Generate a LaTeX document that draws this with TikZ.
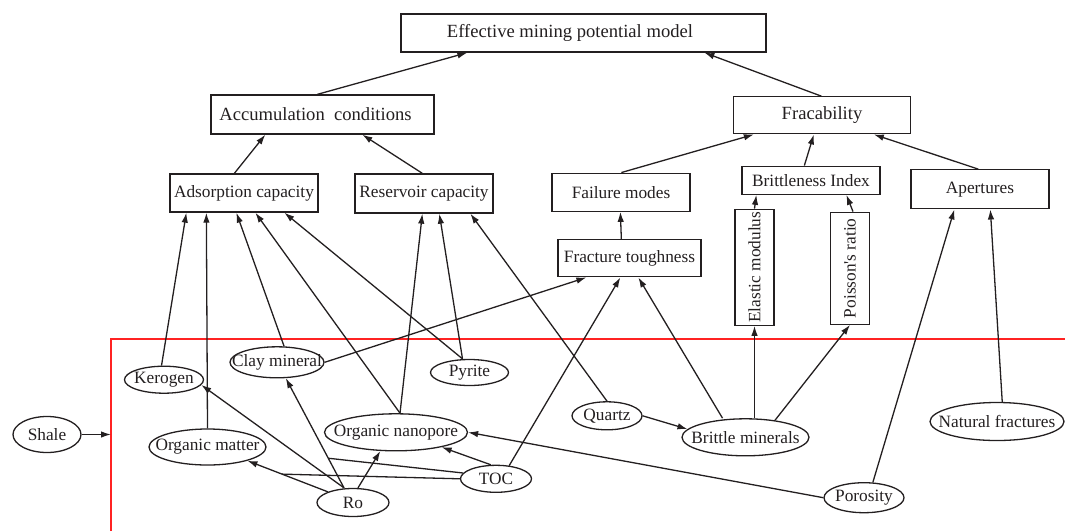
\documentclass[tikz,border=0pt]{standalone}
\usepackage{fontspec}
\setmainfont{Liberation Serif}
\usetikzlibrary{arrows.meta,shapes.geometric,calc}
\definecolor{ink}{RGB}{35,31,32}
\definecolor{framered}{RGB}{255,35,35}
\newcommand{\zw}[1]{\makebox[0pt]{#1}}
\begin{document}
\begin{tikzpicture}[x=1pt,y=-1pt,
  every node/.style={font=\fontsize{17.3}{20}\selectfont, text=ink},
  big/.style={font=\fontsize{18.6}{21}\selectfont},
  box/.style={draw=ink, line width=1.3pt, rectangle, inner sep=0pt},
  oval/.style={draw=ink, line width=1.3pt, ellipse, inner sep=0pt},
  arr/.style={draw=ink, line width=1.3pt, -{Latex[length=10pt,width=6.5pt]}},
  ln/.style={draw=ink, line width=1.3pt}]
\useasboundingbox (0,0) rectangle (1065,531);
% boxes
\node[box, big, minimum width=365, minimum height=38] (eff) at (583.5,33) {\hspace*{-27pt}Effective mining potential model};
\node[box, big, minimum width=223, minimum height=39] (acc) at (322.5,114.5) {\hspace*{-14pt}Accumulation\ \ conditions};
\node[box, minimum width=148, minimum height=38] (ads) at (244,193) {Adsorption capacity};
\node[box, minimum width=138, minimum height=39] (res) at (424,193.5) {Reservoir capacity};
\node[box, big, minimum width=177, minimum height=37] (frac) at (822,115.3) {Fracability};
\node[box, minimum width=138, minimum height=38] (fail) at (621,192.2) {Failure modes};
\node[box, minimum width=138, minimum height=28] (bi) at (811,180.2) {Brittleness Index};
\node[box, minimum width=138, minimum height=39] (ap) at (980,189.3) {Apertures};
\node[box, minimum width=143, minimum height=37] (ft) at (629.5,258.3) {Fracture toughness};
\node[box, minimum width=39, minimum height=116] (em) at (754.5,267.2) {\rotatebox{90}{Elastic modulus}};
\node[box, minimum width=39, minimum height=112] (pr) at (850,268.2) {\rotatebox{90}{Poisson\textquotesingle s ratio}};
% ellipses
\node[oval, minimum width=68, minimum height=36] (shale) at (47,434.5) {\zw{Shale}};
\node[oval, minimum width=79, minimum height=27] (ker) at (164,379.7) {\zw{Kerogen}};
\node[oval, minimum width=94, minimum height=31] (clay) at (277,362.3) {\zw{Clay mineral}};
\node[oval, minimum width=78, minimum height=26] (pyr) at (469.5,372.5) {\zw{Pyrite}};
\node[oval, minimum width=117, minimum height=36] (om) at (207.5,447) {\zw{Organic matter}};
\node[oval, minimum width=143, minimum height=37] (onano) at (396,432.3) {\zw{Organic nanopore}};
\node[oval, minimum width=71, minimum height=27] (toc) at (496,478.8) {\zw{TOC}};
\node[oval, minimum width=72, minimum height=28] (ro) at (353,502.5) {\zw{Ro}};
\node[oval, minimum width=70, minimum height=28] (qtz) at (607,415.8) {\zw{Quartz}};
\node[oval, minimum width=127, minimum height=37] (brit) at (745.5,437.3) {\zw{Brittle minerals}};
\node[oval, minimum width=134, minimum height=38] (nf) at (997,421.5) {\zw{Natural fractures}};
\node[oval, minimum width=80, minimum height=30] (por) at (864,497.7) {\zw{Porosity}};
% frame
\draw[framered, line width=1.2pt] (111,531) -- (111,339) -- (1065,339);
\coordinate (fin) at (111,434.5);
\draw[arr] (shale.east) -- (fin);
% upper hierarchy
\draw[arr] ([xshift=107pt]acc.north west) -- ([xshift=67pt]eff.south west);
\draw[arr] ([xshift=88.5pt]frac.north west) -- ([xshift=304pt]eff.south west);
\draw[arr] ([xshift=65pt]ads.north west) -- ([xshift=55pt]acc.south west);
\draw[arr] ([xshift=68pt]res.north west) -- ([xshift=152pt]acc.south west);
\draw[arr] ([xshift=70pt]fail.north west) -- ([xshift=21pt]frac.south west);
\draw[arr] ([xshift=63pt]bi.north west) -- ([xshift=81pt]frac.south west);
\draw[arr] ([xshift=68pt]ap.north west) -- ([xshift=141pt]frac.south west);
\draw[arr] ([xshift=64pt]ft.north west) -- ([xshift=69pt]fail.south west);
\draw[arr] (em.north) -- ([xshift=15pt]bi.south west);
\draw[arr] ([xshift=3pt]pr.north) -- ([xshift=105pt]bi.south west);
% factors
\draw[arr] (ker.100) -- ([xshift=17pt]ads.south west);
\draw[arr] (om.north) -- ([xshift=37pt]ads.south west);
\draw[arr] (clay.66) -- ([xshift=67pt]ads.south west);
\draw[arr] ([xshift=4pt]onano.north) -- ([xshift=86pt]ads.south west);
\draw[arr] ([xshift=-7pt]pyr.north) -- ([xshift=115pt]ads.south west);
\draw[arr] ([xshift=4pt]onano.north) -- ([xshift=68pt]res.south west);
\draw[arr] ([xshift=-7pt]pyr.north) -- ([xshift=85pt]res.south west);
\draw[arr] (qtz.north) -- ([xshift=116pt]res.south west);
\draw[arr] (clay.east) -- ([xshift=29pt]ft.south west);
\draw[arr] (toc.45) -- ([xshift=63pt]ft.south west);
\draw[arr] ([xshift=-23pt]brit.north) -- ([xshift=81pt]ft.south west);
\draw[arr] (brit.north -| em.south) -- (em.south);
\draw[arr] (brit.30) -- (pr.south);
\draw[arr] (qtz.east) -- (brit.172);
\draw[arr] (por.60) -- ([xshift=44pt]ap.south west);
\draw[arr] (nf.75) -- ([xshift=80pt]ap.south west);
\draw[arr] (por.west) -- (onano.east);
\draw[arr] (toc.110) -- (onano.-18);
\draw[arr] ([xshift=-9pt]ro.north) -- (ker.-8);
\draw[arr] ([xshift=-9pt]ro.north) -- (clay.-61);
\draw[arr] ([xshift=5pt]ro.north) -- (onano.-130);
\draw[arr] (ro.157) -- (om.-19);
\coordinate (m1) at ($(ro.157)!0.57!(om.-19)$);
\coordinate (m2) at ($([xshift=-9pt]ro.north)!0.27!(clay.-61)$);
\draw[ln] (toc.west) -- (m1);
\draw[ln] (toc.170) -- (m2);
\end{tikzpicture}
\end{document}
